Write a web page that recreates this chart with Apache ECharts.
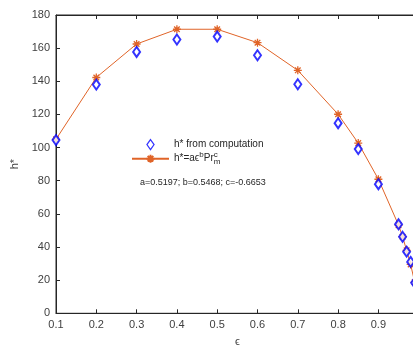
<!DOCTYPE html>
<html>
<head>
<meta charset="utf-8">
<script src="https://cdn.jsdelivr.net/npm/echarts@6/dist/echarts.min.js"></script>
<style>
  html, body { margin: 0; padding: 0; background: #fff; overflow: hidden; }
  #chart { width: 440px; height: 348px; }
</style>
</head>
<body>
<div id="chart"></div>
<script>
// Porosity values (epsilon) shared by both series
const epsilon = [0.1, 0.2, 0.3, 0.4, 0.5, 0.6, 0.7, 0.8, 0.85, 0.9, 0.95, 0.96, 0.97, 0.98, 0.99];
// h* obtained from the computation
const hComputed = [104.5, 138, 157.7, 165.2, 167, 155.7, 138.2, 114.7, 99.1, 77.9, 53.7, 46.2, 37.2, 31, 18.4];
// h* from the correlation h* = a·eps^b·Pr_m^c
const hFit = [105, 142.3, 162.5, 171.4, 171.4, 163.3, 146.6, 120.1, 102.7, 80.9, 53.2, 46.2, 38, 29.5, 18.8];
const fitParams = 'a=0.5197; b=0.5468; c=-0.6653';
const xTicks = [0.1, 0.2, 0.3, 0.4, 0.5, 0.6, 0.7, 0.8, 0.9];

const axisCol = '#262626';
const labelCol = '#404040';
const fitCol = '#E06428';
const compCol = '#0000FF';
const font = 'Liberation Sans, Arial, sans-serif';

const asterisk = 'path://M0,-10L0,10M-10,0L10,0M-7,-7L7,7M-7,7L7,-7';
const diamondIcon = 'path://M5,0L10,7L5,14L0,7Z';

const chart = echarts.init(document.getElementById('chart'), null, { renderer: 'canvas' });

const compPts = epsilon.map((x, i) => [x, hComputed[i]]);
const fitPts = epsilon.map((x, i) => [x, hFit[i]]);

const tickStyle = { show: true, inside: true, length: 4, lineStyle: { color: axisCol } };

chart.setOption({
  animation: false,
  textStyle: { fontFamily: font },
  grid: {
    left: 56, top: 15, width: 362.7, height: 298.3,
    containLabel: false, outerBoundsMode: 'none',
    show: true, borderColor: axisCol, borderWidth: 1, backgroundColor: 'transparent'
  },
  xAxis: [{
    type: 'value', min: 0.1, max: 1.0, interval: 0.1,
    name: 'ϵ', nameLocation: 'middle', nameGap: 23,
    nameTextStyle: { fontSize: 11, color: labelCol, fontFamily: font },
    axisLine: { show: true, onZero: false, lineStyle: { color: axisCol, width: 1 } },
    axisTick: tickStyle,
    axisLabel: {
      color: labelCol, fontSize: 11, margin: 6,
      formatter: v => (xTicks.some(t => Math.abs(t - v) < 1e-9) ? v.toFixed(1) : '')
    },
    splitLine: { show: false }
  }, {
    type: 'value', min: 0.1, max: 1.0, interval: 0.1, position: 'top', gridIndex: 0,
    axisLine: { show: true, onZero: false, lineStyle: { color: axisCol, width: 1 } },
    axisTick: tickStyle,
    axisLabel: { show: false },
    splitLine: { show: false }
  }],
  yAxis: {
    type: 'value', min: 0, max: 180, interval: 20,
    name: 'h*', nameLocation: 'middle', nameGap: 22,
    nameTextStyle: { fontSize: 11, color: labelCol, fontFamily: font },
    axisLine: { show: true, onZero: false, lineStyle: { color: axisCol, width: 1 } },
    axisTick: tickStyle,
    axisLabel: { color: labelCol, fontSize: 11, margin: 6 },
    splitLine: { show: false }
  },
  legend: {
    orient: 'vertical', left: 126, top: 134,
    itemWidth: 37, itemHeight: 10, itemGap: 1,
    textStyle: {
      fontSize: 10, color: '#262626', fontFamily: font,
      rich: {
        t: { fontSize: 10, color: '#262626', fontFamily: font },
        sup: { fontSize: 8, color: '#262626', fontFamily: font, padding: [0, 0, 7, 0] },
        supc: { fontSize: 8, color: '#262626', fontFamily: font, padding: [0, 0, 7, 0], width: 0.01 },
        sub: { fontSize: 8, color: '#262626', fontFamily: font, padding: [7, 0, 0, 0] }
      }
    },
    formatter: name => name === 'fit'
      ? '{t|h*=aϵ}{sup|b}{t|Pr}{supc|c}{sub|m}'
      : '{t|' + name + '}',
    data: [
      {
        name: 'h* from computation', icon: diamondIcon,
        itemStyle: { color: 'transparent', borderColor: compCol, borderWidth: 1.2 }
      },
      { name: 'fit' }
    ]
  },
  graphic: [{
    type: 'text', left: 140, top: 178,
    style: { text: fitParams, fontSize: 9, fill: '#262626', fontFamily: font }
  }],
  series: [{
    name: 'fit', type: 'line', data: fitPts,
    symbol: asterisk, symbolSize: 8,
    lineStyle: { color: fitCol, width: 1 },
    itemStyle: { color: fitCol, borderColor: fitCol, borderWidth: 1.3 },
    z: 2
  }, {
    name: 'h* from computation', type: 'scatter', data: compPts,
    symbol: 'emptyDiamond', symbolSize: [7, 10],
    itemStyle: { color: compCol, borderColor: compCol, borderWidth: 1 },
    z: 3
  }]
});
</script>
</body>
</html>
